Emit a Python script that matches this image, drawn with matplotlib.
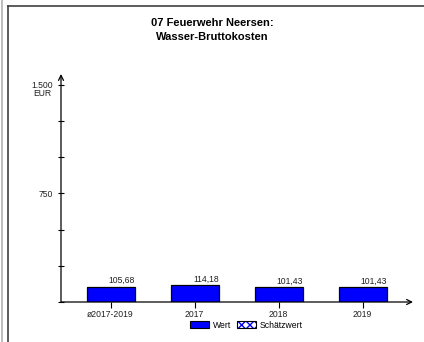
import matplotlib
matplotlib.use("Agg")
import matplotlib.pyplot as plt
from matplotlib.patches import Patch
from matplotlib.legend_handler import HandlerTuple
from matplotlib.lines import Line2D

plt.rcParams['font.family'] = ['Liberation Sans', 'DejaVu Sans']

# data
categories = ["ø2017-2019", "2017", "2018", "2019"]
values = [105.68, 114.18, 101.43, 101.43]
value_labels = ["105,68", "114,18", "101,43", "101,43"]
ytick_values = [0, 250, 500, 750, 1000, 1250, 1500]
ytick_labels = ["", "", "", "750", "", "", "1.500"]

W, H = 424, 342
fig = plt.figure(figsize=(W / 100, H / 100), dpi=100)

# outer frame
fig.add_artist(Line2D([1.5 / W, 1.5 / W], [0, 1], color="#b0b0b0", lw=1.2))
fig.add_artist(Line2D([8 / W, 8 / W], [0, 1 - 6 / H], color="#404040", lw=1.2))
fig.add_artist(Line2D([8 / W, 1], [1 - 6 / H, 1 - 6 / H], color="#404040", lw=1.2))

ax = fig.add_axes([61 / W, 1 - 302 / H, (413 - 61) / W, (302 - 74) / H])
x = range(len(categories))
bars = ax.bar(x, values, width=0.57, color="#0000FF", edgecolor="black", linewidth=0.9, zorder=3)

for b, lab in zip(bars, value_labels):
    ax.text(b.get_x() + b.get_width(), b.get_height() + 12, lab, ha="right", va="bottom",
            fontsize=6.2, color="#202020")

ax.set_xlim(-0.59, 3.6)
ax.set_ylim(0, 1575)
for s in ["top", "right", "left", "bottom"]:
    ax.spines[s].set_visible(False)

# axis arrows
ax.annotate("", xy=(0, 1), xytext=(0, 0), xycoords="axes fraction",
            arrowprops=dict(arrowstyle="->", lw=0.9, color="black", shrinkA=0, shrinkB=0,
                            mutation_scale=9))
ax.annotate("", xy=(1, 0), xytext=(0, 0), xycoords="axes fraction",
            arrowprops=dict(arrowstyle="->", lw=0.9, color="black", shrinkA=0, shrinkB=0,
                            mutation_scale=9))

ax.set_yticks(ytick_values)
ax.set_yticklabels(ytick_labels, fontsize=6.2, color="#202020")
ax.tick_params(axis="y", direction="inout", length=5, width=0.8, pad=3)
ax.set_xticks(list(x))
ax.set_xticklabels(categories, fontsize=6.2, color="#202020")
ax.tick_params(axis="x", direction="out", length=4, width=0.8, pad=2)
ax.annotate("EUR", xy=(0, 1500), xycoords=ax.get_yaxis_transform(),
            xytext=(-7, -3), textcoords="offset points", ha="right", va="top",
            fontsize=6.2, color="#202020")

fig.text(0.5, 1 - 30 / H, "07 Feuerwehr Neersen:\nWasser-Bruttokosten", ha="center", va="center",
         fontsize=8, fontweight="bold", linespacing=1.55)

h_wert = Patch(facecolor="#0000FF", edgecolor="black", linewidth=0.8)
h_sch = (Patch(facecolor="white", edgecolor="#0000FF", hatch="xxxx", linewidth=0),
         Patch(facecolor="none", edgecolor="black", linewidth=0.8))
fig.legend([h_wert, h_sch], ["Wert", "Schätzwert"], loc="center", bbox_to_anchor=(0.581, 1 - 325 / H),
           ncol=2, frameon=False, fontsize=6.2, handlelength=2.2, handleheight=0.9,
           handletextpad=0.45, columnspacing=0.7,
           handler_map={tuple: HandlerTuple(ndivide=1, pad=0)})

fig.savefig("out.png", dpi=100)
